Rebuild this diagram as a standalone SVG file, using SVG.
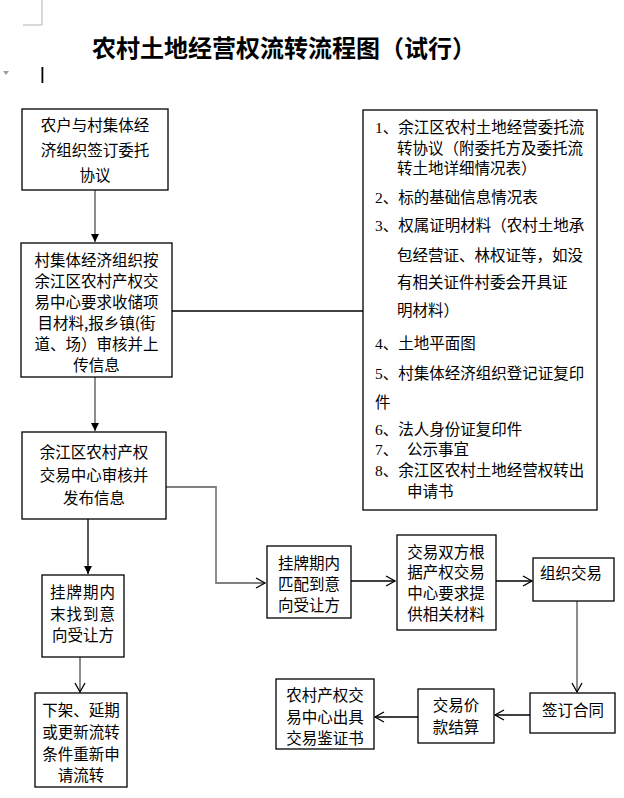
<svg xmlns="http://www.w3.org/2000/svg" width="624" height="798" viewBox="0 0 624 798">
<style>
.box{fill:#fff;stroke:#000;stroke-width:1.3}
.t{font-family:"Noto Sans CJK SC","Liberation Sans",sans-serif;font-size:15.5px;fill:#000}
.c{text-anchor:middle}
.ln{fill:none;stroke:#000;stroke-width:1.3}
.gr{stroke:#808080;stroke-width:1.8}
.num{font-family:"Liberation Serif",serif}
</style>
<defs>
<marker id="fa" markerUnits="userSpaceOnUse" markerWidth="10" markerHeight="10" refX="8" refY="5" orient="auto">
<path d="M0,1 L8,5 L0,9 Z" fill="#000"/>
</marker>
<marker id="oa" markerUnits="userSpaceOnUse" markerWidth="12" markerHeight="12" refX="10" refY="6" orient="auto">
<path d="M1,1 L10,6 L1,11" fill="none" stroke="#000" stroke-width="1.3"/>
</marker>
</defs>
<rect width="624" height="798" fill="#fff"/>
<g id="decor">
<path d="M42,0 V25 H23" fill="none" stroke="#b4b4b4" stroke-width="1"/>
<path d="M3,71 H9 L6,75 Z" fill="#a0a0a0"/>
<rect x="41.5" y="67" width="1.8" height="16" fill="#000"/>
</g>
<text id="title" x="92" y="57" font-family="Noto Sans CJK SC,sans-serif" font-size="24" font-weight="bold" fill="#000">农村土地经营权流转流程图（试行）</text>
<g id="connectors">
<line class="ln gr" x1="95" y1="190" x2="95" y2="242" marker-end="url(#fa)"/>
<line class="ln" x1="172" y1="311" x2="363" y2="311"/>
<line class="ln gr" x1="95" y1="377" x2="95" y2="431" marker-end="url(#fa)"/>
<line class="ln" x1="88" y1="519" x2="88" y2="574" marker-end="url(#fa)"/>
<line class="ln gr" x1="80" y1="657" x2="80" y2="692" marker-end="url(#oa)"/>
<polyline class="ln gr" points="166,487 216,487 216,583 265,583" marker-end="url(#oa)"/>
<line class="ln" x1="351" y1="581" x2="395" y2="581" marker-end="url(#oa)"/>
<line class="ln" x1="496" y1="581" x2="532" y2="581" marker-end="url(#oa)"/>
<line class="ln gr" x1="577" y1="601" x2="577" y2="692" marker-end="url(#oa)"/>
<line class="ln" x1="530" y1="715" x2="495" y2="715" marker-end="url(#oa)"/>
<line class="ln" x1="418" y1="717" x2="375" y2="717" marker-end="url(#oa)"/>
</g>
<g id="n1">
<rect class="box" x="22" y="109" width="146" height="81"/>
<text class="t c" x="95" y="131">农户与村集体经</text>
<text class="t c" x="95" y="156">济组织签订委托</text>
<text class="t c" x="95" y="181">协议</text>
</g>
<g id="n2">
<rect class="box" x="21" y="243" width="151" height="134"/>
<text class="t c" x="96.5" y="266">村集体经济组织按</text>
<text class="t c" x="96.5" y="287">余江区农村产权交</text>
<text class="t c" x="96.5" y="308">易中心要求收储项</text>
<text class="t c" x="96.5" y="329">目材料,报乡镇(街</text>
<text class="t c" x="96.5" y="350">道、场）审核并上</text>
<text class="t c" x="96.5" y="371">传信息</text>
</g>
<g id="n3">
<rect class="box" x="22" y="432" width="144" height="87"/>
<text class="t c" x="94" y="458">余江区农村产权</text>
<text class="t c" x="94" y="481">交易中心审核并</text>
<text class="t c" x="94" y="504">发布信息</text>
</g>
<g id="n4">
<rect class="box" x="42" y="575" width="82" height="82"/>
<text class="t c" x="83" y="598" letter-spacing="1">挂牌期内</text>
<text class="t c" x="83" y="620" letter-spacing="1">末找到意</text>
<text class="t c" x="83" y="641">向受让方</text>
</g>
<g id="n5">
<rect class="box" x="35" y="693" width="92" height="94"/>
<text class="t c" x="81" y="716">下架、延期</text>
<text class="t c" x="81" y="738">或更新流转</text>
<text class="t c" x="81" y="760">条件重新申</text>
<text class="t c" x="81" y="781">请流转</text>
</g>
<g id="materials">
<rect class="box" x="363" y="110" width="234" height="400"/>
<text class="t" x="375" y="133"><tspan class="num">1</tspan>、余江区农村土地经营委托流</text>
<text class="t" x="397" y="154">转协议（附委托方及委托流</text>
<text class="t" x="397" y="174">转土地详细情况表）</text>
<text class="t" x="375" y="203"><tspan class="num">2</tspan>、标的基础信息情况表</text>
<text class="t" x="375" y="231"><tspan class="num">3</tspan>、权属证明材料（农村土地承</text>
<text class="t" x="397" y="261">包经营证、林权证等，如没</text>
<text class="t" x="397" y="288">有相关证件村委会开具证</text>
<text class="t" x="397" y="316">明材料）</text>
<text class="t" x="375" y="349"><tspan class="num">4</tspan>、土地平面图</text>
<text class="t" x="375" y="379"><tspan class="num">5</tspan>、村集体经济组织登记证复印</text>
<text class="t" x="375" y="408">件</text>
<text class="t" x="375" y="435"><tspan class="num">6</tspan>、法人身份证复印件</text>
<text class="t" x="375" y="455"><tspan class="num">7</tspan>、<tspan x="407">公示事宜</tspan></text>
<text class="t" x="375" y="476"><tspan class="num">8</tspan>、余江区农村土地经营权转出</text>
<text class="t" x="407" y="497">申请书</text>
</g>
<g id="n6">
<rect class="box" x="267" y="546" width="84" height="72"/>
<text class="t c" x="309" y="569">挂牌期内</text>
<text class="t c" x="309" y="590">匹配到意</text>
<text class="t c" x="309" y="611">向受让方</text>
</g>
<g id="n7">
<rect class="box" x="397" y="535" width="99" height="95"/>
<text class="t c" x="446" y="558">交易双方根</text>
<text class="t c" x="446" y="578">据产权交易</text>
<text class="t c" x="446" y="599">中心要求提</text>
<text class="t c" x="446" y="620">供相关材料</text>
</g>
<g id="n8">
<rect class="box" x="533" y="558" width="81" height="43"/>
<text class="t c" x="571" y="579">组织交易</text>
</g>
<g id="n9">
<rect class="box" x="530" y="693" width="85" height="40"/>
<text class="t c" x="573" y="716">签订合同</text>
</g>
<g id="n10">
<rect class="box" x="418" y="689" width="76" height="54"/>
<text class="t c" x="456" y="711">交易价</text>
<text class="t c" x="456" y="733">款结算</text>
</g>
<g id="n11">
<rect class="box" x="276" y="679" width="98" height="70"/>
<text class="t c" x="325" y="701">农村产权交</text>
<text class="t c" x="325" y="723">易中心出具</text>
<text class="t c" x="325" y="744">交易鉴证书</text>
</g>
</svg>
